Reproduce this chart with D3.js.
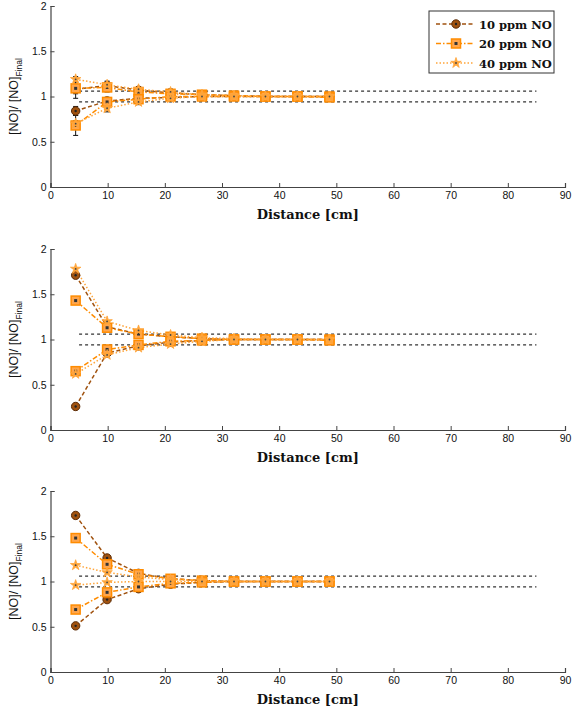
<!DOCTYPE html>
<html><head><meta charset="utf-8">
<script src="https://cdn.jsdelivr.net/npm/d3@7"></script>
<style>body{margin:0;background:#fff}svg{display:block}</style>
</head><body><svg id="c" width="572" height="710"></svg>
<script>
// ---- data ----
const distance = [4.4, 9.9, 15.4, 21.0, 26.5, 32.1, 37.6, 43.2, 48.8];
const xTicks = [0,10,20,30,40,50,60,70,80,90];
const yTicks = [0,0.5,1,1.5,2];
const seriesNames = ["10 ppm NO","20 ppm NO","40 ppm NO"];
const bandUpper = 1.06, bandLower = 0.94, bandStart = 5, bandEnd = 85;

// panel 1
const p1_10a = [1.08,1.12,1.07,1.04,1.02,1.01,1.00,1.00,1.00];
const p1_10b = [0.84,0.95,0.98,0.99,1.00,1.00,1.00,1.00,1.00];
const p1_20a = [1.09,1.10,1.05,1.03,1.02,1.01,1.00,1.00,1.00];
const p1_20b = [0.68,0.94,0.97,1.00,1.00,1.00,1.00,1.00,0.99];
const p1_40a = [1.19,1.13,1.08,1.05,1.02,1.01,1.00,1.00,1.00];
const p1_40b = [0.70,0.87,0.94,0.98,1.00,1.00,1.00,1.00,1.00];
const p1_err10 = [0.05,0.04,0.03,0.03,0.02,0.01,0.01,0.01,0.01];
const p1_err20 = [0.11,0.05,0.04,0.03,0.02,0.01,0.01,0.01,0.01];
const p1_err40 = [0.03,0.04,0.03,0.03,0.02,0.01,0.01,0.01,0.01];
// panel 2
const p2_10a = [1.71,1.14,1.06,1.03,1.01,1.00,1.00,1.00,1.00];
const p2_10b = [0.26,0.85,0.93,0.97,0.99,1.00,1.00,1.00,1.00];
const p2_20a = [1.43,1.13,1.06,1.03,1.01,1.00,1.00,1.00,1.00];
const p2_20b = [0.65,0.89,0.94,0.98,0.99,1.00,1.00,1.00,0.99];
const p2_40a = [1.78,1.20,1.10,1.05,1.02,1.01,1.00,1.00,1.00];
const p2_40b = [0.62,0.83,0.91,0.95,0.98,1.00,1.00,1.00,1.00];
// panel 3
const p3_10a = [1.73,1.26,1.09,1.03,1.01,1.00,1.00,1.00,1.00];
const p3_10b = [0.51,0.80,0.92,0.97,0.99,1.00,1.00,1.00,1.00];
const p3_20a = [1.48,1.19,1.08,1.03,1.01,1.00,1.00,1.00,1.00];
const p3_20b = [0.69,0.88,0.94,0.98,0.99,1.00,1.00,1.00,1.00];
const p3_40a = [1.18,1.10,1.05,1.02,1.01,1.00,1.00,1.00,1.00];
const p3_40b = [0.96,0.99,1.00,1.00,1.00,1.00,1.00,1.00,1.00];

// ---- styles ----
const styles = [
  {color:"#A0520F", dash:"4,2.5", marker:"circle", fill:"#A0520F"},
  {color:"#FF8C00", dash:"5,2,1.5,2", marker:"square", fill:"#FFA64D"},
  {color:"#FFA53A", dash:"1.5,2", marker:"star", fill:"#FFA53A"}
];

const panels = [
  {top:6, series:[[p1_10a,p1_err10,0],[p1_10b,p1_err10,0],[p1_20a,p1_err20,1],[p1_20b,p1_err20,1],[p1_40a,p1_err40,2],[p1_40b,p1_err40,2]]},
  {top:249, series:[[p2_10a,null,0],[p2_10b,null,0],[p2_20a,null,1],[p2_20b,null,1],[p2_40a,null,2],[p2_40b,null,2]]},
  {top:491, series:[[p3_10a,null,0],[p3_10b,null,0],[p3_20a,null,1],[p3_20b,null,1],[p3_40a,null,2],[p3_40b,null,2]]}
];

const svg = d3.select("#c");
const left = 50.5, right = 565, ph = 181;
const x = d3.scaleLinear().domain([0,90]).range([left,right]);

function drawMarker(g, type, cx, cy, st){
  if(type==="circle"){
    g.append("circle").attr("cx",cx).attr("cy",cy).attr("r",4.2)
     .attr("fill",st.fill).attr("stroke","#5a2a05").attr("stroke-width",1);
    g.append("circle").attr("cx",cx).attr("cy",cy).attr("r",1.2).attr("fill","#222");
  } else if(type==="square"){
    g.append("rect").attr("x",cx-4.5).attr("y",cy-4.5).attr("width",9).attr("height",9)
     .attr("fill",st.fill).attr("stroke",st.color).attr("stroke-width",1.5);
    g.append("rect").attr("x",cx-1.5).attr("y",cy-1.5).attr("width",3).attr("height",3).attr("fill","#333");
  } else {
    const sym = d3.symbol().type(d3.symbolStar).size(34);
    g.append("path").attr("d",sym()).attr("transform",`translate(${cx},${cy})`)
     .attr("fill",st.fill).attr("stroke",st.color).attr("stroke-width",0.8);
    g.append("circle").attr("cx",cx).attr("cy",cy).attr("r",0.9).attr("fill","#444");
  }
}

panels.forEach((p,pi)=>{
  const y = d3.scaleLinear().domain([0,2]).range([p.top+ph,p.top]);
  const g = svg.append("g");
  // axes
  const xa = g.append("g").attr("transform",`translate(0,${p.top+ph})`)
    .call(d3.axisBottom(x).tickValues(xTicks).tickSize(-4).tickPadding(5).tickFormat(d3.format("d")));
  const ya = g.append("g").attr("transform",`translate(${left},0)`)
    .call(d3.axisLeft(y).tickValues(yTicks).tickSize(-4).tickPadding(4).tickFormat(d=>String(d)));
  [xa,ya].forEach(a=>{
    a.select(".domain").attr("stroke","#444").attr("stroke-width",1.2);
    a.selectAll(".tick line").attr("stroke","#444");
    a.selectAll("text").attr("font-family","Liberation Sans, Arial, sans-serif").attr("font-size",10.5).attr("fill","#111");
  });
  // axis titles
  g.append("text").attr("x",(left+right)/2).attr("y",p.top+ph+32)
    .attr("text-anchor","middle").attr("font-family","DejaVu Serif, Liberation Serif, serif")
    .attr("font-weight","bold").attr("font-size",13).attr("fill","#111").text("Distance [cm]");
  const yl = g.append("text").attr("transform",`translate(18,${y(1)}) rotate(-90)`)
    .attr("text-anchor","middle").attr("font-family","Liberation Sans, Arial, sans-serif")
    .attr("font-size",12.5).attr("fill","#111");
  yl.append("tspan").text("[NO]/ [NO]");
  yl.append("tspan").attr("font-size",8.5).attr("dy",4).text("Final");

  // band lines
  [bandUpper,bandLower].forEach(v=>{
    g.append("line").attr("x1",x(bandStart)).attr("x2",x(bandEnd)).attr("y1",y(v)).attr("y2",y(v))
     .attr("stroke","#333").attr("stroke-width",1.3).attr("stroke-dasharray","3,3");
  });

  const line = d3.line().x((d,i)=>x(distance[i])).y(d=>y(d));
  p.series.forEach(([vals,err,si])=>{
    const st = styles[si];
    g.append("path").attr("d",line(vals)).attr("fill","none").attr("stroke",st.color)
     .attr("stroke-width",1.5).attr("stroke-dasharray",st.dash);
  });
  p.series.forEach(([vals,err,si])=>{
    if(!err) return;
    vals.forEach((v,i)=>{
      const cx = x(distance[i]);
      g.append("line").attr("x1",cx).attr("x2",cx).attr("y1",y(v-err[i])).attr("y2",y(v+err[i]))
        .attr("stroke","#111").attr("stroke-width",1);
      [v-err[i],v+err[i]].forEach(e=>g.append("line").attr("x1",cx-2.5).attr("x2",cx+2.5)
        .attr("y1",y(e)).attr("y2",y(e)).attr("stroke","#111").attr("stroke-width",1));
    });
  });
  p.series.forEach(([vals,err,si])=>{
    const st = styles[si];
    vals.forEach((v,i)=>drawMarker(g, st.marker, x(distance[i]), y(v), st));
  });

  if(pi===0){
    const lg = svg.append("g");
    lg.append("rect").attr("x",429).attr("y",11).attr("width",125).attr("height",62)
      .attr("fill","#fff").attr("stroke","#333").attr("stroke-width",1);
    seriesNames.forEach((n,k)=>{
      const st = styles[k], ly = 24 + k*19.5;
      lg.append("line").attr("x1",436).attr("x2",473).attr("y1",ly).attr("y2",ly)
        .attr("stroke",st.color).attr("stroke-width",1.5).attr("stroke-dasharray",st.dash);
      drawMarker(lg, st.marker, 456, ly, st);
      lg.append("text").attr("x",479).attr("y",ly+4.5).attr("font-family","DejaVu Serif, Liberation Serif, serif")
        .attr("font-weight","bold").attr("font-size",11.5).attr("fill","#111").text(n);
    });
  }
});
</script></body></html>
